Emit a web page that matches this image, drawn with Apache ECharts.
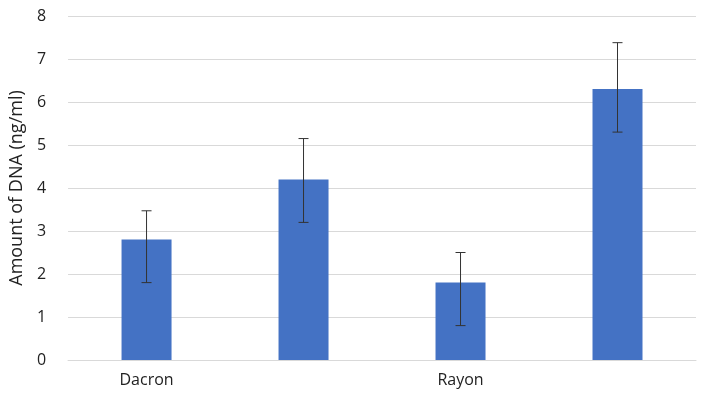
<!DOCTYPE html>
<html><head><meta charset="utf-8">
<script src="https://cdn.jsdelivr.net/npm/echarts@6/dist/echarts.min.js"></script>
<style>html,body{margin:0;padding:0;background:#fff}#c{width:717px;height:403px}</style>
</head><body><div id="c"></div>
<script>
const categories = ["Dacron", "Polyurethane foam", "Rayon", "Flocked nylon"];
const values = [2.8, 4.2, 1.8, 6.3];
const errHigh = [3.47, 5.15, 2.5, 7.38];
const errLow = [1.8, 3.2, 0.8, 5.3];
const yTicks = [0, 1, 2, 3, 4, 5, 6, 7, 8];

const chart = echarts.init(document.getElementById('c'));
const font = "'Open Sans', 'Liberation Sans', sans-serif";
chart.setOption({
  animation: false,
  grid: { left: 68, right: 21, top: 16, bottom: 43 },
  xAxis: {
    type: 'category', data: categories,
    axisLine: { lineStyle: { color: '#d9d9d9' } },
    axisTick: { show: false },
    axisLabel: { color: '#222', fontSize: 16, fontFamily: font, margin: 12 }
  },
  yAxis: {
    type: 'value', min: yTicks[0], max: yTicks[yTicks.length - 1], interval: 1,
    name: 'Amount of DNA (ng/ml)', nameLocation: 'middle', nameGap: 36, nameRotate: 90,
    nameTextStyle: { color: '#222', fontSize: 18, fontFamily: font },
    axisLine: { show: false }, axisTick: { show: false },
    axisLabel: { color: '#222', fontSize: 16, fontFamily: font, margin: 22 },
    splitLine: { lineStyle: { color: '#d9d9d9' } }
  },
  series: [
    { type: 'bar', data: values, barWidth: 50, itemStyle: { color: '#4472c4' } },
    {
      type: 'custom',
      data: categories.map((c, i) => [i, errLow[i], errHigh[i]]),
      renderItem: function (params, api) {
        const lo = api.coord([api.value(0), api.value(1)]);
        const hi = api.coord([api.value(0), api.value(2)]);
        const w = 5;
        const st = { stroke: '#333', lineWidth: 1 };
        return { type: 'group', children: [
          { type: 'line', shape: { x1: hi[0], y1: hi[1], x2: lo[0], y2: lo[1] }, style: st },
          { type: 'line', shape: { x1: hi[0] - w, y1: hi[1], x2: hi[0] + w, y2: hi[1] }, style: st },
          { type: 'line', shape: { x1: lo[0] - w, y1: lo[1], x2: lo[0] + w, y2: lo[1] }, style: st }
        ]};
      },
      z: 10
    }
  ]
});
</script></body></html>
